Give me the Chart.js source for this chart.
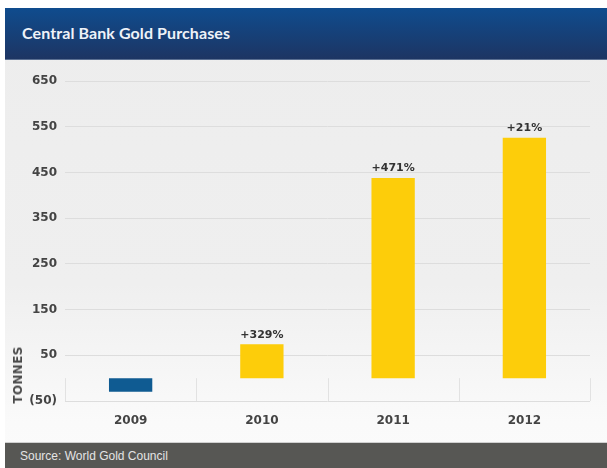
<!DOCTYPE html>
<html>
<head>
<meta charset="utf-8">
<title>Central Bank Gold Purchases</title>
<script src="https://cdn.jsdelivr.net/npm/chart.js@4.4.1/dist/chart.umd.min.js"></script>
<style>
    html, body { margin: 0; padding: 0; background: #ffffff; }
    body { width: 607px; height: 468px; position: relative; overflow: hidden; }
    .panel {
        position: absolute; left: 5px; top: 8px; width: 602px; height: 460px;
        background: linear-gradient(#ededed 0%, #efefef 60%, #fafafa 90%, #fbfbfb 100%);
    }
    .header {
        position: absolute; left: 5px; top: 8px; width: 602px; height: 52px;
        background: linear-gradient(#0f4c8e, #1d3563);
        border-bottom: 1px solid #5a6f92;
        box-sizing: border-box;
    }
    .header span {
        position: absolute; left: 17px; top: 15px;
        font: bold 16px Lato, "Open Sans", sans-serif; color: #eef2f8;
        letter-spacing: 0.1px;
    }
    .footer {
        position: absolute; left: 5px; top: 442px; width: 602px; height: 26px;
        background: #575754; border-top: 1px solid #d0d0d0; box-sizing: border-box;
    }
    .footer span {
        position: absolute; left: 15px; top: 6px;
        font: 12px "Liberation Sans", Arial, sans-serif; color: #e4e4e4;
    }
    .unit {
        position: absolute; left: 18px; top: 375px;
        transform: translate(-50%, -50%) rotate(-90deg);
        font: bold 12px "DejaVu Sans", sans-serif; color: #4a4a4a;
        letter-spacing: 0.3px;
    }
    #chartWrap { position: absolute; left: 0; top: 61px; width: 607px; height: 381px; }
</style>
</head>
<body>
<div class="panel"></div>
<div class="header"><span>Central Bank Gold Purchases</span></div>
<div id="chartWrap"><canvas id="goldChart"></canvas></div>
<div class="unit">TONNES</div>
<div class="footer"><span>Source: World Gold Council</span></div>

<script>
// net purchases in tonnes, with year-on-year change labels
const years = ["2009", "2010", "2011", "2012"];
const tonnes = [-30, 74, 438, 526];
const changeLabels = ["", "+329%", "+471%", "+21%"];
const yTicks = [-50, 50, 150, 250, 350, 450, 550, 650];

// little divider lines under the zero line, between the years
const dividerPlugin = {
    id: "dividers",
    beforeDatasetsDraw(chart) {
        const ctx = chart.ctx;
        const x = chart.scales.x;
        const y = chart.scales.y;
        const top = y.getPixelForValue(0);
        const bottom = y.getPixelForValue(yTicks[0]);
        ctx.save();
        ctx.strokeStyle = "#e2e2e2";
        ctx.lineWidth = 1;
        for (let k = 0; k <= years.length; k++) {
            const px = Math.round(x.getPixelForValue(k - 0.5)) + 0.5;
            ctx.beginPath();
            ctx.moveTo(px, top);
            ctx.lineTo(px, bottom);
            ctx.stroke();
        }
        ctx.restore();
    }
};

// percentage labels over each bar
const changeLabelPlugin = {
    id: "changeLabels",
    afterDatasetsDraw(chart) {
        const ctx = chart.ctx;
        const meta = chart.getDatasetMeta(0);
        ctx.save();
        ctx.font = "bold 11px 'DejaVu Sans', sans-serif";
        ctx.fillStyle = "#333333";
        ctx.textAlign = "center";
        ctx.textBaseline = "bottom";
        meta.data.forEach((bar, i) => {
            if (!changeLabels[i]) return;
            ctx.fillText(changeLabels[i], bar.x, bar.y - 4);
        });
        ctx.restore();
    }
};

new Chart(document.getElementById("goldChart"), {
    type: "bar",
    data: {
        labels: years,
        datasets: [{
            data: tonnes,
            backgroundColor: ctx => ctx.raw < 0 ? "#0f5b92" : "#fdcd0a",
            borderWidth: 0,
            barPercentage: 0.33,
            categoryPercentage: 1.0
        }]
    },
    options: {
        responsive: true,
        maintainAspectRatio: false,
        animation: false,
        layout: { padding: { top: 20, right: 17, left: 0, bottom: 0 } },
        plugins: {
            legend: { display: false },
            tooltip: { enabled: false }
        },
        scales: {
            x: {
                grid: { display: false, drawTicks: false },
                border: { display: false },
                ticks: {
                    padding: 13,
                    color: "#444444",
                    font: { family: "'DejaVu Sans', sans-serif", size: 12, weight: "bold" }
                },
                afterFit: s => { s.height = 41; }
            },
            y: {
                min: yTicks[0],
                max: yTicks[yTicks.length - 1],
                afterBuildTicks: s => { s.ticks = yTicks.map(v => ({ value: v })); },
                grid: { color: "#dddddd", lineWidth: 1, drawTicks: false },
                border: { display: false },
                ticks: {
                    padding: 8,
                    color: "#444444",
                    font: { family: "'DejaVu Sans', sans-serif", size: 12, weight: "bold" },
                    callback: v => v < 0 ? "(" + (-v) + ")" : String(v)
                },
                afterFit: s => { s.width = 65; }
            }
        }
    },
    plugins: [dividerPlugin, changeLabelPlugin]
});
</script>
</body>
</html>
